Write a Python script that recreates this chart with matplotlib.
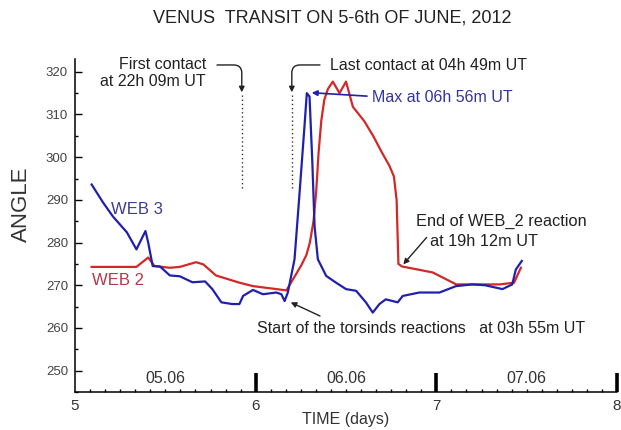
import matplotlib
matplotlib.use("Agg")
import matplotlib.pyplot as plt
import numpy as np

plt.rcParams['font.family'] = ['Liberation Sans', 'DejaVu Sans']

# WEB 3 (blue) - time in days, angle
web3_t = [5.092, 5.155, 5.21, 5.287, 5.34, 5.37, 5.39, 5.405, 5.43, 5.47, 5.525,
          5.58, 5.65, 5.72, 5.76, 5.81, 5.87, 5.91, 5.93, 5.985, 6.04, 6.114,
          6.142, 6.16, 6.178, 6.215, 6.243, 6.27, 6.283, 6.298, 6.313, 6.326,
          6.344, 6.39, 6.445, 6.50, 6.556, 6.61, 6.648, 6.685, 6.72, 6.786,
          6.814, 6.906, 7.017, 7.109, 7.20, 7.27, 7.366, 7.42, 7.44, 7.473]
web3_a = [293.6, 289.4, 286.1, 282.4, 278.4, 281.0, 282.7, 280.0, 274.5, 274.4, 272.3,
          272.1, 270.7, 270.9, 269.1, 266.0, 265.6, 265.6, 267.5, 268.9, 267.9, 268.3,
          267.9, 266.3, 268.3, 276.1, 291.7, 307.2, 315.0, 314.2, 299.4, 283.8,
          276.1, 272.2, 270.6, 269.1, 268.7, 266.0, 263.6, 265.6, 266.7, 266.0,
          267.5, 268.3, 268.3, 269.8, 270.2, 270.0, 269.1, 270.2, 273.7, 275.7]

# WEB 2 (red)
web2_t = [5.092, 5.25, 5.34, 5.405, 5.44, 5.525, 5.58, 5.67, 5.71, 5.78, 5.91,
          5.985, 6.17, 6.215, 6.25, 6.28, 6.30, 6.32, 6.335, 6.348, 6.363, 6.38,
          6.40, 6.427, 6.464, 6.50, 6.538, 6.60, 6.65, 6.70, 6.74, 6.765, 6.78,
          6.79, 6.81, 6.98, 7.11, 7.22, 7.35, 7.43, 7.468]
web2_a = [274.3, 274.3, 274.3, 276.5, 274.5, 274.1, 274.3, 275.4, 274.9, 272.3, 270.6,
          269.8, 268.8, 272.0, 274.5, 277.0, 280.0, 285.0, 292.0, 301.0, 308.5, 313.5,
          316.0, 317.7, 315.0, 317.7, 311.8, 308.5, 305.0, 301.0, 298.0, 295.5, 290.0,
          275.0, 274.4, 273.0, 270.2, 270.2, 270.2, 270.6, 274.1]

contacts = [5.923, 6.200]      # first / last contact (22h09m, 04h49m)
day_labels = ['05.06', '06.06', '07.06']
day_centers = [5.5, 6.5, 7.5]

blue = '#2020ae'
red = '#d22828'
txt = '#222222'

fig = plt.figure(figsize=(6.21, 4.30), dpi=100)
ax = fig.add_axes([0.1208, 0.0884, 0.8728, 0.7744])

ax.plot(web2_t, web2_a, color=red, lw=1.6)
ax.plot(web3_t, web3_a, color=blue, lw=1.6)

ax.set_xlim(5, 8)
ax.set_ylim(245.2, 323)

for s in ['top', 'right']:
    ax.spines[s].set_visible(False)
for s in ['left', 'bottom']:
    ax.spines[s].set_linewidth(1.1)

ax.set_yticks(np.arange(250, 321, 10))
ax.set_yticks(np.arange(245, 321, 5), minor=True)
ax.set_xticks([5, 6, 7, 8])
ax.set_xticks(np.arange(5, 8.001, 1 / 12), minor=True)
ax.tick_params(axis='y', which='major', direction='in', length=5, width=1, labelsize=9.5,
               labelcolor='#444444', pad=5)
ax.tick_params(axis='y', which='minor', direction='in', length=2.5, width=1)
ax.tick_params(axis='x', which='major', direction='in', length=14, width=2.6, labelsize=11,
               labelcolor='#333333', pad=5)
ax.tick_params(axis='x', which='minor', direction='in', length=2.2, width=1)
ax.xaxis.get_major_ticks()[0].tick1line.set_visible(False)

ax.set_xlabel('TIME (days)', fontsize=11.5, color='#333333', labelpad=-1)
fig.text(0.035, 0.525, 'ANGLE', rotation=90, fontsize=16, color='#333333',
         ha='center', va='center')
fig.text(0.535, 0.958, 'VENUS  TRANSIT ON 5-6th OF JUNE, 2012', fontsize=13,
         color='#222222', ha='center', va='center')

for c, lab in zip(day_centers, day_labels):
    ax.text(c, 248.1, lab, fontsize=11.5, color='#333333', ha='center', va='center')

# contact markers
ax.vlines(contacts, 292.8, 314.6, colors='#333333', linestyles=(0, (1, 2)), lw=1)

ax.text(5.725, 319.7, 'First contact\nat 22h 09m UT', fontsize=11.5, color=txt,
        ha='right', va='center', multialignment='right', linespacing=1.15)
ax.annotate('', xy=(contacts[0], 315.2), xytext=(5.786, 321.6),
            arrowprops=dict(arrowstyle='-|>', color=txt, lw=1, mutation_scale=8,
                            shrinkA=0, shrinkB=0,
                            connectionstyle='angle,angleA=0,angleB=90,rad=8'))

ax.text(6.411, 321.5, 'Last contact at 04h 49m UT', fontsize=11.5, color=txt,
        ha='left', va='center')
ax.annotate('', xy=(contacts[1], 315.2), xytext=(6.356, 321.6),
            arrowprops=dict(arrowstyle='-|>', color=txt, lw=1, mutation_scale=8,
                            shrinkA=0, shrinkB=0,
                            connectionstyle='angle,angleA=0,angleB=90,rad=8'))

ax.text(6.642, 313.9, 'Max at 06h 56m UT', fontsize=11.5, color='#34349a',
        ha='left', va='center')
ax.annotate('', xy=(6.31, 315.1), xytext=(6.616, 314.3),
            arrowprops=dict(arrowstyle='-|>', color=blue, lw=1.2, mutation_scale=8,
                            shrinkA=0, shrinkB=0))

ax.text(6.005, 259.9, 'Start of the torsinds reactions   at 03h 55m UT', fontsize=11.5,
        color=txt, ha='left', va='center')
ax.annotate('', xy=(6.194, 266.0), xytext=(6.356, 262.8),
            arrowprops=dict(arrowstyle='-|>', color=txt, lw=1, mutation_scale=8,
                            shrinkA=0, shrinkB=0))

ax.text(6.89, 284.9, 'End of WEB_2 reaction', fontsize=11.8, color=txt,
        ha='left', va='center')
ax.text(6.965, 280.3, 'at 19h 12m UT', fontsize=11.8, color=txt, ha='left', va='center')
ax.annotate('', xy=(6.817, 274.9), xytext=(6.946, 281.2),
            arrowprops=dict(arrowstyle='-|>', color=txt, lw=1, mutation_scale=8,
                            shrinkA=0, shrinkB=0))

ax.text(5.343, 287.7, 'WEB 3', fontsize=12, color='#3c3c94', ha='center', va='center')
ax.text(5.24, 271.0, 'WEB 2', fontsize=12, color='#b03a48', ha='center', va='center')

fig.savefig('out.png', dpi=100)
